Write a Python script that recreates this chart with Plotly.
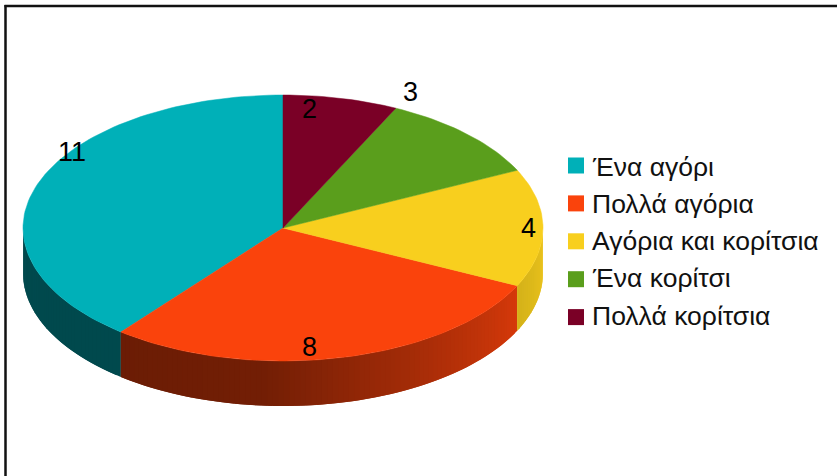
import math
import plotly.graph_objects as go

categories = ["Ένα αγόρι", "Πολλά αγόρια", "Αγόρια και κορίτσια", "Ένα κορίτσι", "Πολλά κορίτσια"]
values = [11, 8, 4, 3, 2]
colors = ["#00b0b8", "#fa430c", "#f8cf1e", "#5a9e1c", "#7a0026"]

CX, CY, RX, RY, DEPTH = 283, 228, 260, 133, 45
label_pos = [(72, 152), (309, 347), (528, 228), (410, 92), (309, 109)]
marker_x, marker_y0, marker_dy = 576, 165.5, 37.9
text_x, text_y0, text_dy = 590, 166.5, 37.3
FONT = "Liberation Sans"


def pt(deg, dy=0):
    """Angle clockwise from the top of the pie -> pixel."""
    a = math.radians(deg)
    return CX + RX * math.sin(a), CY - RY * math.cos(a) + dy


def shade(hex_color, f):
    r, g, b = (int(hex_color[i:i + 2], 16) for i in (1, 3, 5))
    return f"rgb({int(r * f)},{int(g * f)},{int(b * f)})"


def wall_factor(i, deg):
    if i == 0:
        return 0.42
    if i == 2:
        return 0.86 + 0.1 * (116 - deg) / 26
    # orange wall: bright on the right, fading steadily to the lower left
    if deg < 185:
        return 0.86 - 0.40 * (deg - 116) / 69
    return 0.46 - 0.03 * (deg - 185) / 34


# slice limits, counter-clockwise from the top
total = sum(values)
spans = []
run = 0
for v in values:
    start = 360 - run * 360 / total
    run += v
    spans.append((360 - run * 360 / total, start))

fig = go.Figure()

# side walls: painted in order, each strip overlapping the next so no seams show
for i, (a0, a1) in enumerate(spans):
    lo, hi = max(a0, 90), min(a1, 270)
    if lo >= hi:
        continue
    n = max(1, int((hi - lo) / 1.2))
    for k in range(n):
        s = lo + (hi - lo) * k / n
        e = hi if k == n - 1 else min(hi, lo + (hi - lo) * (k + 2) / n)
        steps = [s + (e - s) * j / 3 for j in range(4)]
        top = [pt(d) for d in steps]
        bottom = [pt(d, DEPTH) for d in reversed(steps)]
        poly = top + bottom + [top[0]]
        col = shade(colors[i], wall_factor(i, (s + e) / 2))
        fig.add_trace(go.Scatter(
            x=[p[0] for p in poly], y=[p[1] for p in poly], mode="lines",
            fill="toself", fillcolor=col, line=dict(color=col, width=0),
            hoverinfo="skip", showlegend=False))

# top faces
for i, (a0, a1) in enumerate(spans):
    n = max(2, int((a1 - a0) / 1.5))
    arc = [pt(a0 + (a1 - a0) * k / n) for k in range(n + 1)]
    poly = [(CX, CY)] + arc + [(CX, CY)]
    fig.add_trace(go.Scatter(
        x=[p[0] for p in poly], y=[p[1] for p in poly], mode="lines",
        fill="toself", fillcolor=colors[i], line=dict(color=colors[i], width=0.5),
        name=categories[i], text=[str(values[i])] * len(poly), hoverinfo="name+text",
        showlegend=False))

# legend
fig.add_trace(go.Scatter(
    x=[marker_x] * len(categories),
    y=[marker_y0 + marker_dy * k for k in range(len(categories))],
    mode="markers", marker=dict(symbol="square", size=16, color=colors),
    hoverinfo="skip", showlegend=False))

annotations = []
for k, c in enumerate(categories):
    annotations.append(dict(x=text_x, y=text_y0 + text_dy * k, text=c, showarrow=False,
                            xanchor="left", yanchor="middle", xref="x", yref="y",
                            font=dict(family=FONT, size=26.5, color="#111111")))
for v, (x, y) in zip(values, label_pos):
    annotations.append(dict(x=x, y=y, text=str(v), showarrow=False, xref="x", yref="y",
                            xanchor="center", yanchor="middle",
                            font=dict(family=FONT, size=27, color="#000000")))

fig.update_layout(
    width=837, height=476, margin=dict(l=0, r=0, t=0, b=0),
    paper_bgcolor="white", plot_bgcolor="white", showlegend=False,
    xaxis=dict(range=[0, 837], visible=False, fixedrange=True),
    yaxis=dict(range=[476, 0], visible=False, fixedrange=True),
    annotations=annotations,
    shapes=[
        dict(type="line", xref="x", yref="y", x0=5.5, x1=5.5, y0=476, y1=5, line=dict(color="#111111", width=2.5)),
        dict(type="line", xref="x", yref="y", x0=4.5, x1=837, y0=6, y1=6, line=dict(color="#111111", width=2.5)),
    ],
)
fig.write_html("out.html", config={"displayModeBar": False},
               post_script="document.body.style.margin='0';document.body.style.overflow='hidden';")
